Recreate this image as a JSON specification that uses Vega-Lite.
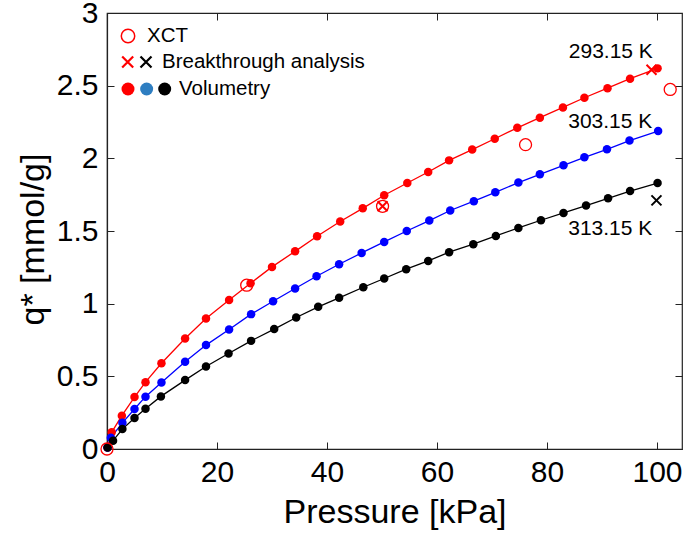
{
  "$schema": "https://vega.github.io/schema/vega-lite/v6.json",
  "width": 575,
  "height": 436,
  "autosize": "none",
  "padding": {"left": 107, "top": 13, "right": 3, "bottom": 89},
  "background": "white",
  "config": {
    "view": {"stroke": "#222222", "strokeWidth": 1.2},
    "font": "Liberation Sans",
    "axis": {
      "grid": false,
      "labelFont": "Liberation Sans",
      "labelFontSize": 30,
      "labelColor": "#000000",
      "labelFlush": false,
      "labelOverlap": false,
      "titleFont": "Liberation Sans",
      "titleFontSize": 34,
      "titleFontWeight": "normal",
      "titleColor": "#000000",
      "tickColor": "#222222",
      "tickSize": -7,
      "domainColor": "#222222",
      "domainWidth": 1.2
    }
  },
  "datasets": {
    "vol": [
      {"series": "293.15 K", "P": 0.1, "q": 0.01},
      {"series": "293.15 K", "P": 0.85, "q": 0.115},
      {"series": "293.15 K", "P": 2.7, "q": 0.229},
      {"series": "293.15 K", "P": 5.0, "q": 0.357},
      {"series": "293.15 K", "P": 7.0, "q": 0.46},
      {"series": "293.15 K", "P": 9.9, "q": 0.59},
      {"series": "293.15 K", "P": 14.2, "q": 0.76},
      {"series": "293.15 K", "P": 18.0, "q": 0.898},
      {"series": "293.15 K", "P": 22.2, "q": 1.026},
      {"series": "293.15 K", "P": 26.1, "q": 1.14},
      {"series": "293.15 K", "P": 30.0, "q": 1.253},
      {"series": "293.15 K", "P": 34.2, "q": 1.36},
      {"series": "293.15 K", "P": 38.2, "q": 1.464},
      {"series": "293.15 K", "P": 42.4, "q": 1.565},
      {"series": "293.15 K", "P": 46.5, "q": 1.656},
      {"series": "293.15 K", "P": 50.4, "q": 1.746},
      {"series": "293.15 K", "P": 54.6, "q": 1.83},
      {"series": "293.15 K", "P": 58.4, "q": 1.906},
      {"series": "293.15 K", "P": 62.2, "q": 1.986},
      {"series": "293.15 K", "P": 66.4, "q": 2.06},
      {"series": "293.15 K", "P": 70.5, "q": 2.135},
      {"series": "293.15 K", "P": 74.6, "q": 2.21},
      {"series": "293.15 K", "P": 78.7, "q": 2.28},
      {"series": "293.15 K", "P": 82.9, "q": 2.35},
      {"series": "293.15 K", "P": 86.8, "q": 2.417},
      {"series": "293.15 K", "P": 91.0, "q": 2.483},
      {"series": "293.15 K", "P": 95.1, "q": 2.548},
      {"series": "293.15 K", "P": 100.1, "q": 2.619},
      {"series": "303.15 K", "P": 0.1, "q": 0.01},
      {"series": "303.15 K", "P": 0.7, "q": 0.078},
      {"series": "303.15 K", "P": 2.8, "q": 0.18},
      {"series": "303.15 K", "P": 5.0, "q": 0.275},
      {"series": "303.15 K", "P": 7.0, "q": 0.36},
      {"series": "303.15 K", "P": 9.9, "q": 0.458},
      {"series": "303.15 K", "P": 14.2, "q": 0.6},
      {"series": "303.15 K", "P": 18.0, "q": 0.715},
      {"series": "303.15 K", "P": 22.2, "q": 0.822},
      {"series": "303.15 K", "P": 26.2, "q": 0.928},
      {"series": "303.15 K", "P": 30.2, "q": 1.017},
      {"series": "303.15 K", "P": 34.2, "q": 1.104},
      {"series": "303.15 K", "P": 38.1, "q": 1.189},
      {"series": "303.15 K", "P": 42.2, "q": 1.271},
      {"series": "303.15 K", "P": 46.3, "q": 1.349},
      {"series": "303.15 K", "P": 50.4, "q": 1.425},
      {"series": "303.15 K", "P": 54.5, "q": 1.5},
      {"series": "303.15 K", "P": 58.6, "q": 1.572},
      {"series": "303.15 K", "P": 62.4, "q": 1.641},
      {"series": "303.15 K", "P": 66.7, "q": 1.705},
      {"series": "303.15 K", "P": 70.6, "q": 1.766},
      {"series": "303.15 K", "P": 74.8, "q": 1.833},
      {"series": "303.15 K", "P": 78.7, "q": 1.89},
      {"series": "303.15 K", "P": 83.0, "q": 1.952},
      {"series": "303.15 K", "P": 86.8, "q": 2.007},
      {"series": "303.15 K", "P": 90.9, "q": 2.062},
      {"series": "303.15 K", "P": 95.0, "q": 2.122},
      {"series": "303.15 K", "P": 100.2, "q": 2.188},
      {"series": "313.15 K", "P": 0.1, "q": 0.01},
      {"series": "313.15 K", "P": 1.1, "q": 0.057},
      {"series": "313.15 K", "P": 2.8, "q": 0.137},
      {"series": "313.15 K", "P": 5.0, "q": 0.213},
      {"series": "313.15 K", "P": 7.0, "q": 0.277},
      {"series": "313.15 K", "P": 9.8, "q": 0.362},
      {"series": "313.15 K", "P": 14.2, "q": 0.474},
      {"series": "313.15 K", "P": 18.0, "q": 0.568},
      {"series": "313.15 K", "P": 22.1, "q": 0.657},
      {"series": "313.15 K", "P": 26.2, "q": 0.744},
      {"series": "313.15 K", "P": 30.4, "q": 0.825},
      {"series": "313.15 K", "P": 34.4, "q": 0.905},
      {"series": "313.15 K", "P": 38.4, "q": 0.978},
      {"series": "313.15 K", "P": 42.2, "q": 1.04},
      {"series": "313.15 K", "P": 46.6, "q": 1.113},
      {"series": "313.15 K", "P": 50.4, "q": 1.173},
      {"series": "313.15 K", "P": 54.4, "q": 1.237},
      {"series": "313.15 K", "P": 58.4, "q": 1.294},
      {"series": "313.15 K", "P": 62.2, "q": 1.354},
      {"series": "313.15 K", "P": 66.6, "q": 1.409},
      {"series": "313.15 K", "P": 70.7, "q": 1.466},
      {"series": "313.15 K", "P": 74.8, "q": 1.521},
      {"series": "313.15 K", "P": 78.9, "q": 1.574},
      {"series": "313.15 K", "P": 83.0, "q": 1.624},
      {"series": "313.15 K", "P": 87.1, "q": 1.675},
      {"series": "313.15 K", "P": 91.1, "q": 1.725},
      {"series": "313.15 K", "P": 95.1, "q": 1.775},
      {"series": "313.15 K", "P": 100.1, "q": 1.83}
    ],
    "xct": [
      {"P": 0.0, "q": 0.0},
      {"P": 25.4, "q": 1.127},
      {"P": 50.1, "q": 1.67},
      {"P": 76.1, "q": 2.094},
      {"P": 102.4, "q": 2.474}
    ],
    "bt": [
      {"series": "293.15 K", "P": 50.1, "q": 1.67},
      {"series": "293.15 K", "P": 99.0, "q": 2.61},
      {"series": "313.15 K", "P": 99.9, "q": 1.711}
    ],
    "serieslabels": [
      {"label": "293.15 K", "P": 91.6, "q": 2.735},
      {"label": "303.15 K", "P": 91.5, "q": 2.247},
      {"label": "313.15 K", "P": 91.5, "q": 1.517}
    ],
    "legendtext": [
      {"label": "XCT", "P": 7.27, "q": 2.842},
      {"label": "Breakthrough analysis", "P": 10.0, "q": 2.663},
      {"label": "Volumetry", "P": 13.1, "q": 2.477}
    ],
    "legendopen": [
      {"P": 3.82, "q": 2.842}
    ],
    "legendcross": [
      {"series": "293.15 K", "P": 3.76, "q": 2.663},
      {"series": "313.15 K", "P": 7.09, "q": 2.663}
    ],
    "legenddot": [
      {"series": "293.15 K", "P": 3.82, "q": 2.477},
      {"series": "303.15 K", "P": 7.21, "q": 2.477},
      {"series": "313.15 K", "P": 10.49, "q": 2.477}
    ]
  },
  "resolve": {"axis": {"x": "independent", "y": "independent"}},
  "layer": [
    {
      "data": {"name": "vol"},
      "mark": {"type": "line", "strokeWidth": 1.3},
      "encoding": {
        "x": {"field": "P", "type": "quantitative", "scale": {"domain": [0, 104.545], "nice": false},
              "axis": {"values": [0, 20, 40, 60, 80, 100], "format": "d", "title": "Pressure [kPa]", "labelPadding": 15, "titlePadding": 8}},
        "y": {"field": "q", "type": "quantitative", "scale": {"domain": [0, 3], "nice": false},
              "axis": {"values": [0, 0.5, 1, 1.5, 2, 2.5, 3], "format": ".1~f", "title": "q* [mmol/g]", "labelPadding": 16, "titlePadding": 6, "titleY": 226}},
        "color": {"field": "series", "type": "nominal",
                  "scale": {"domain": ["293.15 K", "303.15 K", "313.15 K"], "range": ["#ff0000", "#0000ff", "#000000"]},
                  "legend": null},
        "order": {"field": "P", "type": "quantitative"}
      }
    },
    {
      "data": {"name": "vol"},
      "mark": {"type": "point", "opacity": 0},
      "encoding": {
        "x": {"field": "P", "type": "quantitative",
              "axis": {"orient": "top", "values": [0, 20, 40, 60, 80, 100], "labels": false, "title": null, "domain": false}},
        "y": {"field": "q", "type": "quantitative",
              "axis": {"orient": "right", "values": [0, 0.5, 1, 1.5, 2, 2.5, 3], "labels": false, "title": null, "domain": false}}
      }
    },
    {
      "data": {"name": "vol"},
      "mark": {"type": "point", "filled": true, "opacity": 1, "size": 72},
      "encoding": {
        "x": {"field": "P", "type": "quantitative", "axis": null},
        "y": {"field": "q", "type": "quantitative", "axis": null},
        "color": {"field": "series", "type": "nominal", "legend": null}
      }
    },
    {
      "data": {"name": "xct"},
      "mark": {"type": "point", "filled": false, "color": "#ff0000", "size": 144, "strokeWidth": 1.3, "opacity": 1},
      "encoding": {
        "x": {"field": "P", "type": "quantitative", "axis": null},
        "y": {"field": "q", "type": "quantitative", "axis": null}
      }
    },
    {
      "data": {"name": "bt"},
      "mark": {"type": "point", "shape": "M-1,-1L1,1M-1,1L1,-1", "filled": false, "size": 100, "strokeWidth": 2, "opacity": 1},
      "encoding": {
        "x": {"field": "P", "type": "quantitative", "axis": null},
        "y": {"field": "q", "type": "quantitative", "axis": null},
        "color": {"field": "series", "type": "nominal", "legend": null}
      }
    },
    {
      "data": {"name": "serieslabels"},
      "mark": {"type": "text", "font": "Liberation Sans", "fontSize": 21, "color": "#000000", "align": "center", "baseline": "middle"},
      "encoding": {
        "x": {"field": "P", "type": "quantitative", "axis": null},
        "y": {"field": "q", "type": "quantitative", "axis": null},
        "text": {"field": "label"}
      }
    },
    {
      "data": {"name": "legendtext"},
      "mark": {"type": "text", "font": "Liberation Sans", "fontSize": 20.5, "color": "#000000", "align": "left", "baseline": "middle"},
      "encoding": {
        "x": {"field": "P", "type": "quantitative", "axis": null},
        "y": {"field": "q", "type": "quantitative", "axis": null},
        "text": {"field": "label"}
      }
    },
    {
      "data": {"name": "legendopen"},
      "mark": {"type": "point", "filled": false, "color": "#ff0000", "size": 180, "strokeWidth": 1.5, "opacity": 1},
      "encoding": {
        "x": {"field": "P", "type": "quantitative", "axis": null},
        "y": {"field": "q", "type": "quantitative", "axis": null}
      }
    },
    {
      "data": {"name": "legendcross"},
      "mark": {"type": "point", "shape": "M-1,-1L1,1M-1,1L1,-1", "filled": false, "size": 121, "strokeWidth": 2.2, "opacity": 1},
      "encoding": {
        "x": {"field": "P", "type": "quantitative", "axis": null},
        "y": {"field": "q", "type": "quantitative", "axis": null},
        "color": {"field": "series", "type": "nominal", "legend": null}
      }
    },
    {
      "data": {"name": "legenddot"},
      "mark": {"type": "point", "filled": true, "size": 169, "opacity": 1},
      "encoding": {
        "x": {"field": "P", "type": "quantitative", "axis": null},
        "y": {"field": "q", "type": "quantitative", "axis": null},
        "fill": {"field": "series", "type": "nominal",
                 "scale": {"domain": ["293.15 K", "303.15 K", "313.15 K"], "range": ["#ff0000", "#2e7ec1", "#000000"]},
                 "legend": null},
        "stroke": {"value": null}
      }
    }
  ]
}
